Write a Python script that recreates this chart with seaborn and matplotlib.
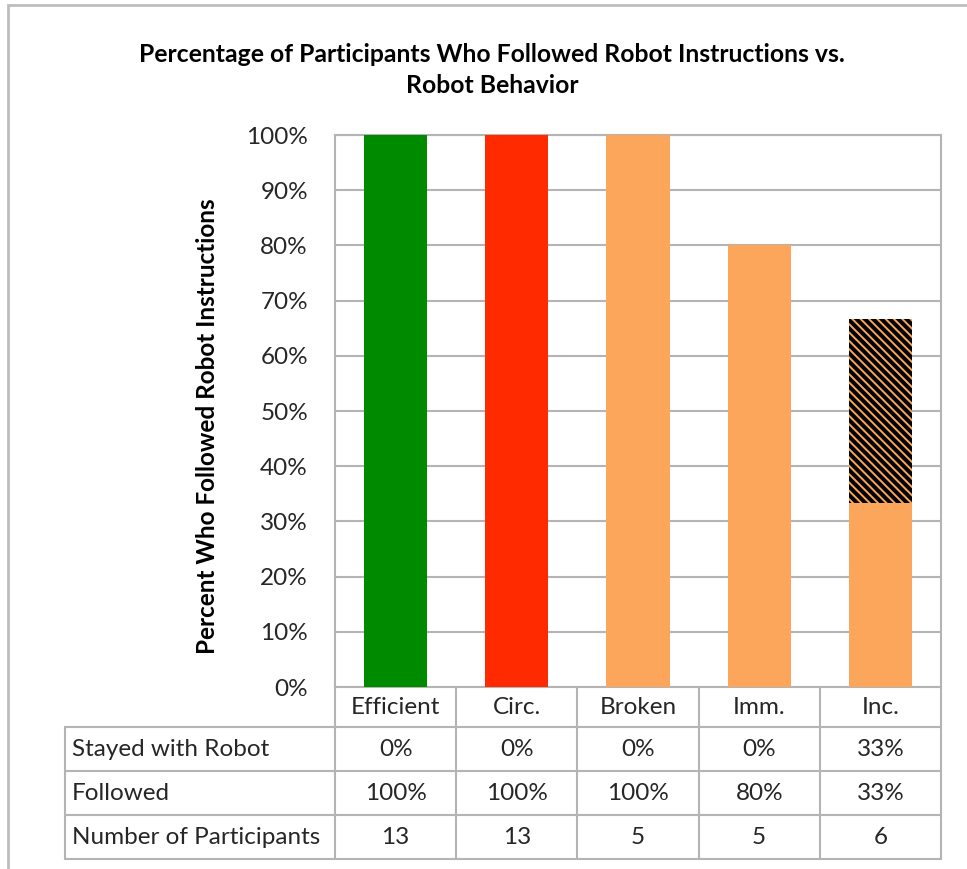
import matplotlib
matplotlib.use("Agg")
import matplotlib.pyplot as plt
from matplotlib.lines import Line2D
from matplotlib.patches import Rectangle
from matplotlib.transforms import blended_transform_factory
import seaborn as sns
import pandas as pd

# Data
behaviors = ["Efficient", "Circ.", "Broken", "Imm.", "Inc."]
followed = [1.00, 1.00, 1.00, 0.80, 0.333]
stayed = [0.00, 0.00, 0.00, 0.00, 0.333]
participants = [13, 13, 5, 5, 6]
bar_colors = ["#008a00", "#ff2a00", "#fba65a", "#fba65a", "#fba65a"]
row_labels = ["Stayed with Robot", "Followed", "Number of Participants"]
yticks = [0.0, 0.1, 0.2, 0.3, 0.4, 0.5, 0.6, 0.7, 0.8, 0.9, 1.0]

sns.set_theme(style="white")
plt.rcParams["font.family"] = ["Lato", "DejaVu Sans"]

W, H = 967, 869
fig = plt.figure(figsize=(W / 100, H / 100), dpi=100)


def fx(p):
    return p / W


def fy(p):
    return 1 - p / H


ax_l, ax_r, ax_t, ax_b = 335, 941, 135, 687
ax = fig.add_axes([fx(ax_l), fy(ax_b), fx(ax_r - ax_l), fy(ax_t) - fy(ax_b)])

grid_gray = "#b4b4b4"
text_col = "#262626"
fs = 17.5

df = pd.DataFrame({"behavior": behaviors, "followed": followed, "stayed": stayed})

sns.barplot(data=df, x="behavior", y="followed", hue="behavior",
            palette=bar_colors, width=0.52, legend=False, ax=ax,
            saturation=1, linewidth=0, zorder=3)

# Upper segment: participants who stayed with the robot
plt.rcParams["hatch.linewidth"] = 1.4
for i, (b, s) in enumerate(zip(followed, stayed)):
    if s > 0:
        ax.bar(i, s, bottom=b, width=0.52, color="black",
               edgecolor="#fba65a", hatch="\\\\\\\\", linewidth=0, zorder=3)

ax.set_xlim(-0.5, len(behaviors) - 0.5)
ax.set_ylim(0, 1)
ax.set_yticks(yticks)
ax.set_yticklabels([f"{t:.0%}" for t in yticks], fontsize=fs, color=text_col)
ax.tick_params(axis="y", length=0, pad=19.5)
ax.set_xticks([])
ax.set_xlabel("")
ax.set_ylabel("Percent Who Followed Robot Instructions", fontsize=17.5,
              fontweight="bold", color="black")
ax.yaxis.set_label_coords(-0.191, 0.473)
ax.yaxis.grid(True, color=grid_gray, linewidth=1.5, zorder=0)
ax.set_axisbelow(True)
for sp in ax.spines.values():
    sp.set_visible(True)
    sp.set_color(grid_gray)
    sp.set_linewidth(1.5)

# Title
fig.text(fx(492), fy(70), "Percentage of Participants Who Followed Robot Instructions vs.\nRobot Behavior",
         ha="center", va="center", fontsize=17.8, fontweight="bold",
         color="black", linespacing=1.38)

# Data table below the axes
tr = blended_transform_factory(ax.transData, fig.transFigure)
row_edges = [687, 727, 771, 815, 859]
tab_left = 65
lw = 1.5

# horizontal rules
for y in row_edges[1:]:
    fig.add_artist(Line2D([fx(tab_left), fx(ax_r)], [fy(y), fy(y)],
                          color=grid_gray, linewidth=lw))
# vertical rules between behaviour columns
for k in range(len(behaviors) + 1):
    fig.add_artist(Line2D([k - 0.5, k - 0.5], [fy(row_edges[0]), fy(row_edges[-1])],
                          transform=tr, color=grid_gray, linewidth=lw))
# left edge of the row-label column
fig.add_artist(Line2D([fx(tab_left), fx(tab_left)], [fy(row_edges[1]), fy(row_edges[-1])],
                      color=grid_gray, linewidth=lw))

centers = [(row_edges[r] + row_edges[r + 1]) / 2 for r in range(4)]
for i, name in enumerate(behaviors):
    fig.text(i, fy(centers[0]), name, transform=tr, ha="center", va="center",
             fontsize=fs, color=text_col)
    fig.text(i, fy(centers[1]), f"{stayed[i]:.0%}", transform=tr, ha="center",
             va="center", fontsize=fs, color=text_col)
    fig.text(i, fy(centers[2]), f"{followed[i]:.0%}", transform=tr, ha="center",
             va="center", fontsize=fs, color=text_col)
    fig.text(i, fy(centers[3]), f"{participants[i]}", transform=tr, ha="center",
             va="center", fontsize=fs, color=text_col)
for r, lab in enumerate(row_labels):
    fig.text(fx(72), fy(centers[r + 1]), lab, ha="left", va="center",
             fontsize=fs, color=text_col)

# Outer chart frame
fig.add_artist(Rectangle((fx(8), fy(H + 20)), fx(W + 20), fy(5) - fy(H + 20),
                         transform=fig.transFigure, fill=False,
                         edgecolor="#bdbdbd", linewidth=2))

fig.savefig("out.png", dpi=100)
